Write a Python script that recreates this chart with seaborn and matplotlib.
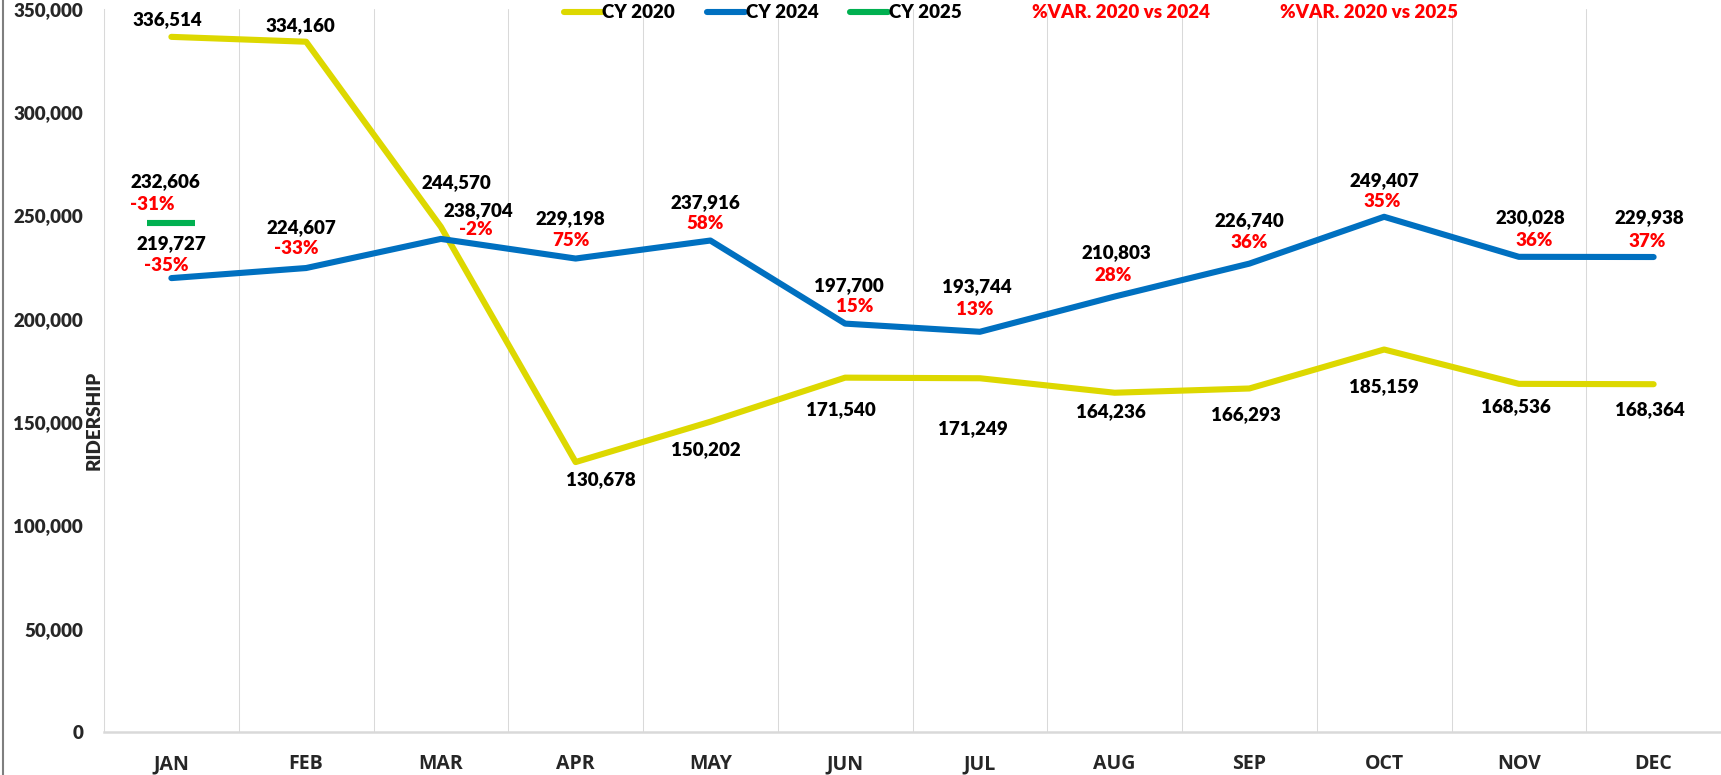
import numpy as np
import matplotlib
matplotlib.use("Agg")
import matplotlib.pyplot as plt
from matplotlib.lines import Line2D
from matplotlib.markers import MarkerStyle
import seaborn as sns

# ---------------------------------------------------------
# DATA
# ---------------------------------------------------------
months = ["JAN", "FEB", "MAR", "APR", "MAY", "JUN",
          "JUL", "AUG", "SEP", "OCT", "NOV", "DEC"]

cy2020 = [336514, 334160, 244570, 130678, 150202, 171540,
          171249, 164236, 166293, 185159, 168536, 168364]
cy2024 = [219727, 224607, 238704, 229198, 237916, 197700,
          193744, 210803, 226740, 249407, 230028, 229938]
cy2025 = [232606]            # label value (JAN only)
cy2025_drawn = [246300]      # where the green dash sits in the picture

y_ticks = [0, 50000, 100000, 150000, 200000, 250000, 300000, 350000]

legend_labels = ["CY 2020", "CY 2024", "CY 2025",
                 "%VAR. 2020 vs 2024", "%VAR. 2020 vs 2025"]

# label offsets in pixels (dx, dy) relative to each point
off_2020 = [(-4, 17), (-6, 16), (16, 44), (25, -18), (-5, -28), (-4, -32),
            (-7, -50), (-4, -19), (-4, -26), (0, -37), (-3, -23), (-4, -25)]
off_2024 = [(0, 35), (-5, 40), (37, 28), (-5, 40), (-5, 38), (4, 38),
            (-3, 45), (2, 44), (0, 43), (0, 36), (12, 39), (-4, 39)]
off_2024_pct = [(-5, 13), (-10, 20), (35, 9), (-5, 18), (-5, 17), (10, 17),
                (-5, 22), (-1, 21), (0, 21), (-2, 15), (15, 16), (-6, 16)]
off_2025 = (-6, 42)
off_2025_pct = (-19, 19)

# ---------------------------------------------------------
# STYLE
# ---------------------------------------------------------
YELLOW = "#DDD800"
BLUE = "#0070C0"
GREEN = "#00B050"
RED = "#FF0000"
GRID = "#D9D9D9"
W = "heavy"

sns.set_style("white")
plt.rcParams["font.family"] = ["Lato", "DejaVu Sans"]
plt.rcParams["font.weight"] = W

fig = plt.figure(figsize=(17.21, 7.75), dpi=100)
ax = fig.add_axes([104 / 1721, 43 / 775, 1617 / 1721, 723 / 775])

x = np.arange(len(months))

sns.lineplot(x=x, y=cy2020, color=YELLOW, linewidth=4.4,
             solid_capstyle="round", ax=ax, zorder=3)
sns.lineplot(x=x, y=cy2024, color=BLUE, linewidth=4.4,
             solid_capstyle="round", ax=ax, zorder=4)
sns.scatterplot(x=x[:len(cy2025_drawn)], y=cy2025_drawn, color=GREEN,
                marker=MarkerStyle("_", capstyle="round"), s=1150,
                linewidth=4.4, ax=ax, zorder=5)

# ---------------------------------------------------------
# DATA LABELS
# ---------------------------------------------------------
lbl = dict(textcoords="offset pixels", ha="center", va="center",
           fontsize=13.5, fontweight=W, zorder=6)

for i, v in enumerate(cy2020):
    ax.annotate(f"{v:,}", (x[i], v), xytext=off_2020[i], color="black", **lbl)

for i, v in enumerate(cy2024):
    ax.annotate(f"{v:,}", (x[i], v), xytext=off_2024[i], color="black", **lbl)
    pct = round((v / cy2020[i] - 1) * 100)
    ax.annotate(f"{pct}%", (x[i], v), xytext=off_2024_pct[i], color=RED, **lbl)

for i, v in enumerate(cy2025):
    yd = cy2025_drawn[i]
    ax.annotate(f"{v:,}", (x[i], yd), xytext=off_2025, color="black", **lbl)
    pct = round((v / cy2020[i] - 1) * 100)
    ax.annotate(f"{pct}%", (x[i], yd), xytext=off_2025_pct, color=RED, **lbl)

# ---------------------------------------------------------
# AXES
# ---------------------------------------------------------
ax.set_xlim(-0.5, len(months) - 0.5)
ax.set_ylim(y_ticks[0], y_ticks[-1])

ax.set_xticks(x)
ax.set_xticklabels(months, family="Open Sans", fontsize=14, fontweight="bold")
ax.set_xticks(np.arange(-0.5, len(months)), minor=True)
ax.tick_params(axis="x", which="major", length=0, pad=16)
ax.tick_params(axis="x", which="minor", length=6, width=0.75, color=GRID)
ax.grid(which="minor", axis="x", color=GRID, linewidth=0.75)
ax.grid(which="major", axis="y", visible=False)

ax.set_yticks(y_ticks)
ax.set_yticklabels([f"{t:,}" for t in y_ticks], fontsize=13.5, fontweight=W)
ax.tick_params(axis="y", length=5, width=0.75, color=GRID, pad=10)

ax.set_ylabel("RIDERSHIP", fontsize=13.5, fontweight=W)
ax.yaxis.set_label_coords(-0.0006, 0.4315)
ax.set_xlabel("")

for side in ["top", "right"]:
    ax.spines[side].set_visible(False)
ax.spines["bottom"].set_color(GRID)
ax.spines["bottom"].set_linewidth(1.8)
ax.spines["left"].set_color(GRID)
ax.spines["left"].set_linewidth(0.75)

# ---------------------------------------------------------
# LEGEND
# ---------------------------------------------------------
handles = [
    Line2D([], [], color=YELLOW, lw=4.4, solid_capstyle="round"),
    Line2D([], [], color=BLUE, lw=4.4, solid_capstyle="round"),
    Line2D([], [], color=GREEN, lw=4.4, solid_capstyle="round"),
    Line2D([], [], color="none"),
    Line2D([], [], color="none"),
]
fig.legend(handles, legend_labels, ncol=5, frameon=False,
           loc="center left", bbox_to_anchor=(564 / 1721, 1 - 13 / 775),
           borderpad=0, borderaxespad=0, handlelength=2.0,
           handletextpad=0.05, columnspacing=1.7,
           prop=dict(family="Lato", weight=W, size=13.5),
           labelcolor=["black", "black", "black", RED, RED])

# left frame border
fig.add_artist(Line2D([0.002, 0.002], [0, 1], color="#7F7F7F", lw=1.5,
                      transform=fig.transFigure))

fig.savefig("out.png", dpi=100)
